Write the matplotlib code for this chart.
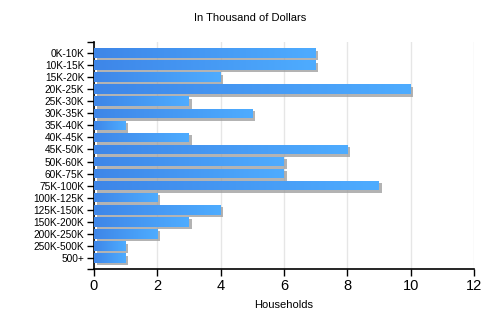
import matplotlib.pyplot as plt
import matplotlib.patheffects as pe
import numpy as np

plt.rcParams['font.family'] = ['Liberation Sans', 'DejaVu Sans']

# household counts per income bracket
brackets = ['0K-10K', '10K-15K', '15K-20K', '20K-25K', '25K-30K', '30K-35K',
            '35K-40K', '40K-45K', '45K-50K', '50K-60K', '60K-75K', '75K-100K',
            '100K-125K', '125K-150K', '150K-200K', '200K-250K', '250K-500K', '500+']
households = [7, 7, 4, 10, 3, 5, 1, 3, 8, 6, 6, 9, 2, 4, 3, 2, 1, 1]

fig = plt.figure(figsize=(5, 3.25), dpi=100)
ax = fig.add_axes([0.188, 0.1723, 0.76, 0.6985])

y = np.arange(len(brackets))
bars = ax.barh(y, households, height=0.8, color='#4592ef', zorder=2)

# blue gradient on each bar, gray drop shadow behind
grad = np.linspace(0, 1, 256).reshape(1, -1)
cmap = plt.matplotlib.colors.LinearSegmentedColormap.from_list(
    'bluegrad', ['#3e86e8', '#4eacff'])
for b in bars:
    b.set_path_effects([pe.SimplePatchShadow(offset=(1.8, -1.8),
                                             shadow_rgbFace='#9a9a9a', alpha=0.75),
                        pe.Normal()])
    x0, y0 = b.get_x(), b.get_y()
    w, h = b.get_width(), b.get_height()
    im = ax.imshow(grad, cmap=cmap, aspect='auto', extent=(x0, x0 + w, y0 + h, y0),
                   zorder=3, interpolation='bilinear')
    im.set_clip_path(b)

ax.set_xlim(0, 12)
ax.set_ylim(len(brackets) - 1 + 0.92, -0.92)
ax.set_xticks(range(0, 13, 2))
ax.set_yticks(y)
ax.set_yticklabels(brackets, fontsize=7.3)
ax.set_yticks([-0.92, len(brackets) - 1 + 0.92], minor=True)
ax.tick_params(axis='x', labelsize=10.5, length=5, width=1, direction='out', pad=2)
ax.tick_params(axis='y', length=5, width=1, direction='out', pad=2)
ax.tick_params(axis='y', which='minor', length=5, width=1)

ax.grid(axis='x', color='#e6e6e6', linewidth=1, zorder=0)
ax.set_axisbelow(True)
for s in ['top', 'right']:
    ax.spines[s].set_visible(False)
ax.spines['left'].set_linewidth(1.2)
ax.spines['bottom'].set_linewidth(1.2)

ax.set_xlabel('Households', fontsize=8, labelpad=5)
fig.text(0.5, 0.945, 'In Thousand of Dollars', ha='center', va='center', fontsize=8)

fig.savefig('out.png')
